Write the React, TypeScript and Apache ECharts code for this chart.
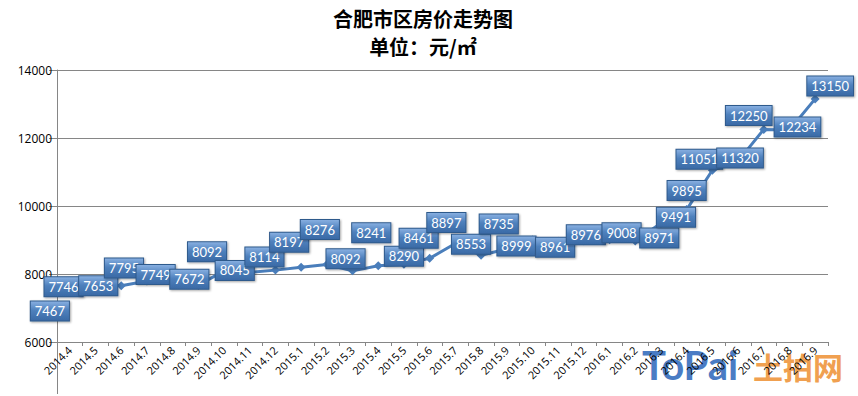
import React, { useEffect, useRef } from "react";
import * as echarts from "echarts";

const months = [
  "2014.4", "2014.5", "2014.6", "2014.7", "2014.8", "2014.9", "2014.10", "2014.11", "2014.12",
  "2015.1", "2015.2", "2015.3", "2015.4", "2015.5", "2015.6", "2015.7", "2015.8", "2015.9",
  "2015.10", "2015.11", "2015.12", "2016.1", "2016.2", "2016.3", "2016.4", "2016.5", "2016.6",
  "2016.7", "2016.8", "2016.9",
];

const prices = [
  7467, 7746, 7653, 7795, 7749, 7672, 8092, 8045, 8114,
  8197, 8276, 8092, 8241, 8290, 8461, 8897, 8553, 8735,
  8999, 8961, 8976, 9008, 8971, 9491, 9895, 11051, 11320,
  12250, 12234, 13150,
];

const yTicks = { min: 6000, max: 14000, step: 2000 };

// label placement nudges (px) relative to each point, mimicking the original layout
const labelNudge: [number, number][] = [
  [-20, 19], [-32, 4], [-23, 0], [-23, -13], [-17, -8], [-9, -6], [-17, -19], [-15, -2], [-11, -13],
  [-12, -25], [-7, -35], [-7, -12], [-7, -33], [0, -8], [-11, -20], [-9, -21], [-10, -11], [-8, -25],
  [-16, 6], [-3, 6], [2, -6], [12, -7], [24, -3], [15, -6], [0, -19], [-13, -11], [2, -3],
  [-15, -14], [8, -3], [15, -13],
];

export default function App() {
  const ref = useRef<HTMLDivElement>(null);
  useEffect(() => {
    if (!ref.current) return;
    const chart = echarts.init(ref.current, null, { renderer: "svg" });
    const axisGray = "#868686";
    chart.setOption({
      animation: false,
      backgroundColor: "#ffffff",
      graphic: [
        {
          type: "text",
          x: 423,
          y: 18,
          style: {
            text: "合肥市区房价走势图",
            font: 'bold 20px "Noto Sans CJK SC"',
            fill: "#000",
            align: "center",
            verticalAlign: "middle",
          },
        },
        {
          type: "text",
          x: 423,
          y: 46,
          style: {
            text: "单位：元/㎡",
            font: 'bold 20px "Noto Sans CJK SC"',
            fill: "#000",
            align: "center",
            verticalAlign: "middle",
          },
        },
        {
          type: "line",
          z: -1,
          shape: { x1: 57.5, y1: 342, x2: 57.5, y2: 394 },
          style: { stroke: axisGray, lineWidth: 1 },
        },
        {
          type: "text",
          x: 642,
          y: 365,
          z: -1,
          style: {
            text: "ToPai",
            font: 'bold 40px "Lato"',
            fill: "#4a7cc4",
            align: "left",
            verticalAlign: "middle",
          },
        },
        {
          type: "text",
          x: 753,
          y: 366,
          z: -1,
          style: {
            text: "土拍网",
            font: 'bold 30px "Noto Sans CJK SC"',
            fill: "#f0a050",
            align: "left",
            verticalAlign: "middle",
          },
        },
      ],
      grid: { left: 57, right: 30, top: 70, bottom: 54, containLabel: false },
      xAxis: {
        type: "category",
        data: months,
        boundaryGap: true,
        axisLine: { lineStyle: { color: axisGray, width: 1 } },
        axisTick: { show: true, interval: 0, length: 4, lineStyle: { color: axisGray } },
        axisLabel: {
          interval: 0,
          rotate: 45,
          fontSize: 11,
          color: "#000",
          margin: 6,
          fontFamily: "Open Sans",
        },
        splitLine: { show: false },
      },
      yAxis: {
        type: "value",
        min: yTicks.min,
        max: yTicks.max,
        interval: yTicks.step,
        axisLine: { show: true, lineStyle: { color: axisGray, width: 1 } },
        axisTick: { show: true, length: 8, lineStyle: { color: axisGray } },
        axisLabel: {
          fontSize: 12,
          color: "#000",
          margin: 5,
          fontFamily: "Open Sans",
          formatter: (v: number) => String(v),
        },
        splitLine: { show: true, lineStyle: { color: axisGray, width: 1 } },
      },
      series: [
        {
          type: "line",
          data: prices.map((v, i) => ({
            value: v,
            label: { offset: labelNudge[i] },
          })),
          symbol: "diamond",
          symbolSize: 9,
          lineStyle: { color: "#4a7ebb", width: 3 },
          itemStyle: { color: "#4a7ebb" },
          label: {
            show: true,
            position: "inside",
            color: "#ffffff",
            fontSize: 13,
            fontFamily: "Lato",
            lineHeight: 14,
            padding: [3, 4, 2, 4],
            borderColor: "#2f5a8c",
            borderWidth: 1,
            backgroundColor: {
              type: "linear",
              x: 0,
              y: 0,
              x2: 0,
              y2: 1,
              colorStops: [
                { offset: 0, color: "#86aee0" },
                { offset: 0.45, color: "#4f81bd" },
                { offset: 1, color: "#3a6aa6" },
              ],
            },
            shadowColor: "rgba(0,0,0,0.35)",
            shadowBlur: 2,
            shadowOffsetX: 1,
            shadowOffsetY: 1,
          },
        },
      ],
    });
    return () => chart.dispose();
  }, []);
  return (
    <div
      ref={ref}
      style={{ position: "fixed", left: 0, top: 0, width: 858, height: 396 }}
    />
  );
}
